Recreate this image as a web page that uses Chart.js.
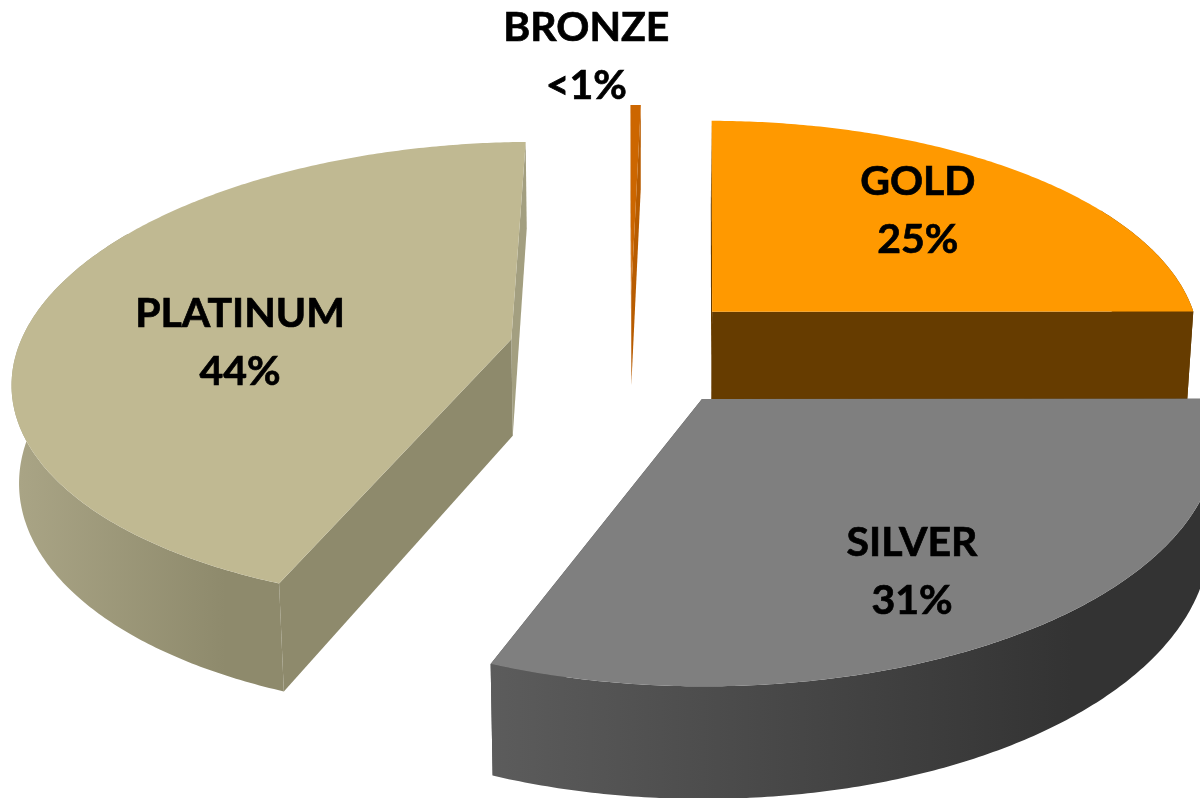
<!DOCTYPE html>
<html>
<head>
<meta charset="utf-8">
<title>Exploded pie</title>
<script src="https://cdn.jsdelivr.net/npm/chart.js@4/dist/chart.umd.min.js"></script>
<style>
    html, body { margin: 0; padding: 0; background: #fff; }
    #wrap { width: 1200px; height: 798px; overflow: hidden; }
</style>
</head>
<body>
<div id="wrap"><canvas id="pie"></canvas></div>
<script>
    var categories = ["GOLD", "SILVER", "PLATINUM", "BRONZE"];
    var shares = [25, 31, 44, 0.4];
    var shareLabels = ["25%", "31%", "44%", "<1%"];

    // look of each slice
    var topColors = ["#ff9900", "#7f7f7f", "#c0b992", "#cc6600"];
    var cutColors = ["#663c00", "#4a4a4a", "#8e8a6c", "#b85c00"];
    var endColors = ["#663c00", "#4a4a4a", "#a39f80", "#b85c00"];
    var wallStops = [
        ["#663c00", "#663c00"],
        ["#5c5c5c", "#333333"],
        ["#aaa586", "#8e8a6c"],
        ["#b85c00", "#b85c00"]
    ];
    var explode = [71, 77, 74, 79];

    // label placement along the slice's middle direction, plus a small nudge
    var labelReach = [0.6, 0.72, 0.55, 1.2];
    var labelNudge = [[14, -14], [-19, 14], [-12, 25], [-50, -16]];

    // camera used to lay the flat pie down on the page
    var view = { cx: 630, cy: 349, ax: 493, ay: 229, persp: 0.1466, sink: 0.012, depth: 98, skew: 0.018 };

    function project(u, v, z) {
        var den = 1 - view.persp * v + view.sink * z;
        return [view.cx + view.ax * (u - view.skew * v) / den, view.cy + (view.ay * v + view.depth * z) / den];
    }

    function sliceGeom(arc) {
        var p = arc.getProps(["startAngle", "endAngle", "outerRadius"], true);
        var mid = (p.startAngle + p.endAngle) / 2;
        var off = arc.options.offset / p.outerRadius;
        return { a0: p.startAngle, a1: p.endAngle, mid: mid, ox: Math.cos(mid) * off, oy: Math.sin(mid) * off };
    }

    function rimPoint(g, a, z) {
        return project(g.ox + Math.cos(a), g.oy + Math.sin(a), z);
    }

    function fillPoly(ctx, pts, fill) {
        ctx.beginPath();
        pts.forEach(function(pt, i) {
            if (i === 0) { ctx.moveTo(pt[0], pt[1]); } else { ctx.lineTo(pt[0], pt[1]); }
        });
        ctx.closePath();
        ctx.fillStyle = fill;
        ctx.fill();
    }

    function rimAngles(g) {
        var list = [];
        var steps = Math.max(2, Math.ceil((g.a1 - g.a0) / 0.01));
        for (var i = 0; i <= steps; i++) {
            list.push(g.a0 + (g.a1 - g.a0) * i / steps);
        }
        return list;
    }

    function drawSlice(ctx, arc, i) {
        var g = sliceGeom(arc);
        var apexTop = project(g.ox, g.oy, 0);
        var apexLow = project(g.ox, g.oy, 1);

        // end faces
        fillPoly(ctx, [apexTop, rimPoint(g, g.a1, 0), rimPoint(g, g.a1, 1), apexLow], endColors[i]);
        fillPoly(ctx, [apexTop, rimPoint(g, g.a0, 0), rimPoint(g, g.a0, 1), apexLow], cutColors[i]);

        // outer wall, the top face hides whatever is further back
        var front = rimAngles(g).filter(function(a) { return Math.sin(a) > -0.5; });
        if (front.length > 1) {
            var upper = front.map(function(a) { return rimPoint(g, a, 0); });
            var lower = front.map(function(a) { return rimPoint(g, a, 1); }).reverse();
            var xs = upper.map(function(pt) { return pt[0]; });
            var left = Math.min.apply(null, xs), right = Math.max.apply(null, xs);
            var grad = ctx.createLinearGradient(left, 0, left + (right - left) * 0.8, 0);
            grad.addColorStop(0, wallStops[i][0]);
            grad.addColorStop(1, wallStops[i][1]);
            fillPoly(ctx, upper.concat(lower), grad);
        }

        // top face
        var face = rimAngles(g).map(function(a) { return rimPoint(g, a, 0); });
        fillPoly(ctx, [apexTop].concat(face), topColors[i]);
    }

    var tiltedPie = {
        id: "tiltedPie",
        beforeDatasetsDraw: function(chart) {
            var ctx = chart.ctx;
            var arcs = chart.getDatasetMeta(0).data;
            ctx.save();
            // back slices first
            [2, 3, 0, 1].forEach(function(i) { drawSlice(ctx, arcs[i], i); });
            ctx.restore();
            return false;
        },
        afterDraw: function(chart) {
            var ctx = chart.ctx;
            var arcs = chart.getDatasetMeta(0).data;
            ctx.save();
            ctx.fillStyle = "#000";
            ctx.strokeStyle = "#000";
            ctx.lineWidth = 0.7;
            ctx.font = "700 41px Lato";
            ctx.textAlign = "center";
            ctx.textBaseline = "middle";
            categories.forEach(function(name, i) {
                var g = sliceGeom(arcs[i]);
                var at = project(g.ox + Math.cos(g.mid) * labelReach[i], g.oy + Math.sin(g.mid) * labelReach[i], 0);
                var x = at[0] + labelNudge[i][0], y = at[1] + labelNudge[i][1];
                ctx.fillText(name, x, y - 29);
                ctx.strokeText(name, x, y - 29);
                ctx.fillText(shareLabels[i], x, y + 29);
                ctx.strokeText(shareLabels[i], x, y + 29);
            });
            ctx.restore();
        }
    };

    new Chart(document.getElementById("pie"), {
        type: "pie",
        data: {
            labels: categories,
            datasets: [{
                data: shares,
                backgroundColor: topColors,
                borderWidth: 0,
                offset: explode
            }]
        },
        options: {
            responsive: true,
            maintainAspectRatio: false,
            animation: false,
            events: [],
            rotation: 0.3,
            radius: 300,
            plugins: { legend: { display: false }, tooltip: { enabled: false } }
        },
        plugins: [tiltedPie]
    });
</script>
</body>
</html>
